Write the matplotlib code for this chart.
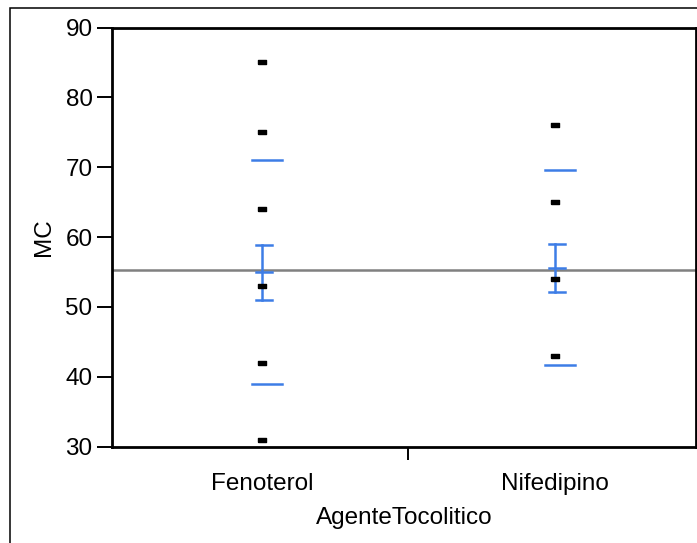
import matplotlib
matplotlib.use("Agg")
import matplotlib.pyplot as plt
from matplotlib.patches import Rectangle
import numpy as np

plt.rcParams['font.family'] = ['Liberation Sans', 'DejaVu Sans']

categories = ["Fenoterol", "Nifedipino"]
fenoterol_values = [85, 75, 64, 53, 42, 31]
nifedipino_values = [76, 65, 54, 43]
group_means = [55.0, 55.6]
group_sd = [16.0, 14.0]
se_upper = [58.9, 59.0]
se_lower = [51.0, 52.1]
grand_mean = 55.3
y_ticks = [30, 40, 50, 60, 70, 80, 90]

W, H = 697, 543
fig = plt.figure(figsize=(W / 100, H / 100), dpi=100)
ax = fig.add_axes([112 / W, 1 - 446.5 / H, (696 - 112) / W, (446.5 - 27.5) / H])

blue = '#3d7de6'
rect_marker = [(-1, -0.6), (1, -0.6), (1, 0.6), (-1, 0.6), (-1, -0.6)]

# grand mean
ax.axhline(grand_mean, color='#808080', lw=1.8, zorder=1)

for i, vals in enumerate([fenoterol_values, nifedipino_values]):
    ax.plot([i] * len(vals), vals, linestyle='none', marker=rect_marker,
            markersize=5.3, color='black', zorder=4)
    m, s = group_means[i], group_sd[i]
    # SD lines
    for yv in (m + s, m - s):
        ax.plot([i - 0.033, i + 0.068], [yv, yv], color=blue, lw=1.8, zorder=3)
    # SE error bar
    ax.plot([i, i], [se_lower[i], se_upper[i]], color=blue, lw=1.8, zorder=3)
    for yv in (se_lower[i], m, se_upper[i]):
        ax.plot([i - 0.019, i + 0.035], [yv, yv], color=blue, lw=1.8, zorder=3)

ax.set_xlim(-0.512, 1.483)
ax.set_ylim(30, 90)
ax.set_yticks(y_ticks)
ax.set_yticklabels([str(t) for t in y_ticks])
ax.tick_params(axis='y', direction='out', length=11, width=1.4, pad=3,
               labelsize=17.5, color='black')
ax.set_xticks([0, 1])
ax.set_xticklabels(categories)
ax.tick_params(axis='x', which='major', length=0, pad=19, labelsize=17.5)
ax.set_xticks([0.5], minor=True)
ax.tick_params(axis='x', which='minor', direction='out', length=9, width=1.4)

for sp in ax.spines.values():
    sp.set_linewidth(2.0)
    sp.set_color('black')

ax.set_xlabel('AgenteTocolitico', fontsize=17.5, labelpad=9)
ax.set_ylabel('MC', fontsize=17.5)
ax.yaxis.set_label_coords((55 - 112) / (696 - 112), 0.5)

# outer frame
frame = Rectangle((10 / W, -0.2), 2.0, 1.2 - 7.5 / H, transform=fig.transFigure,
                  fill=False, edgecolor='black', lw=1.1, clip_on=False)
fig.add_artist(frame)

fig.savefig('out.png', dpi=100)
